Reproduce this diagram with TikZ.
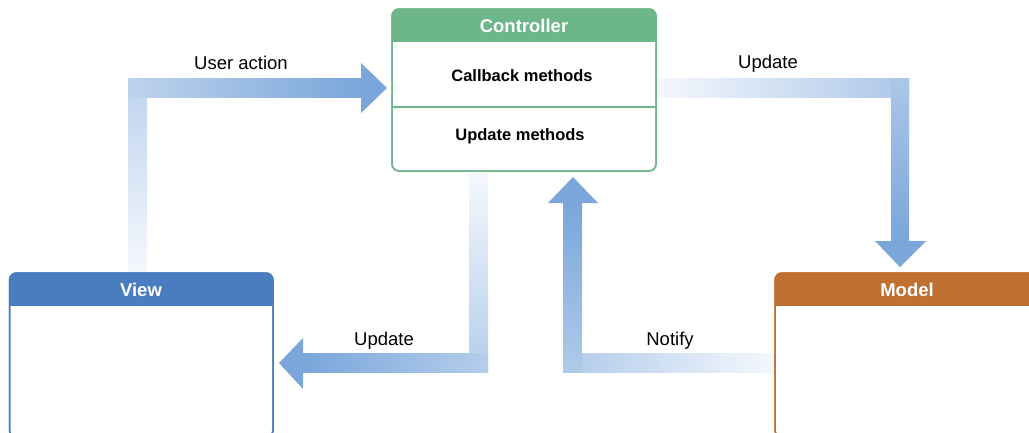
\documentclass[tikz,border=0pt]{standalone}
\usepackage{fontspec}
\setmainfont{Liberation Sans}
\definecolor{ctrlgreen}{RGB}{108,182,137}
\definecolor{viewblue}{RGB}{74,125,192}
\definecolor{modelorange}{RGB}{192,112,48}
\definecolor{adark}{RGB}{122,166,218}
\definecolor{alight}{RGB}{245,248,253}
\colorlet{mA}{adark!45!alight}
\colorlet{mB}{adark!60!alight}
\colorlet{mC}{adark!52!alight}
\colorlet{mD}{adark!56!alight}
\tikzset{
  boxframe/.style={draw=#1, line width=1.5pt, rounded corners=7pt, outer sep=0pt, inner sep=0pt, fill=white},
  boxtitle/.style={text=white, anchor=base, font=\bfseries\fontsize{18.5}{22}\selectfont},
  methodtext/.style={anchor=base, font=\bfseries\fontsize{16.5}{20}\selectfont},
  lbl/.style={anchor=base, font=\fontsize{18.5}{22}\selectfont},
  headtip/.style={fill=adark},
}
\newcommand{\boxheader}[3]{%
  \begin{scope}
    \clip[rounded corners=7pt] (#1.south west) rectangle (#1.north east);
    \fill[#2] (#1.north west) rectangle ([yshift=-#3]#1.north east);
  \end{scope}
  \draw[#2, line width=1.5pt, rounded corners=7pt] (#1.south west) rectangle (#1.north east);
}
\begin{document}
\begin{tikzpicture}[x=1pt,y=-1pt]
\clip (0,0) rectangle (1029,432);
\fill[white] (0,0) rectangle (1029,432);

% ---- arrows ----
% User action (View -> Controller)
\shade[bottom color=alight, top color=mA] (128,273) rectangle (147,78);
\shade[left color=mA, right color=adark] (128,78) rectangle (361,97);
\fill[headtip] (361,63) -- (387,88) -- (361,113) -- cycle;
% Update (Controller -> Model)
\shade[left color=alight, right color=mB] (656,78) rectangle (909,97);
\shade[top color=mB, bottom color=adark] (891,78) rectangle (909,241);
\fill[headtip] (875,241) -- (900,267) -- (926,241) -- cycle;
% Update (Controller -> View)
\shade[top color=alight, bottom color=mC] (469,171) rectangle (488,372);
\shade[left color=adark, right color=mC] (303,353) rectangle (488,372);
\fill[headtip] (303,338) -- (279,363) -- (303,389) -- cycle;
% Notify (Model -> Controller)
\shade[left color=mD, right color=alight] (563,353) rectangle (775,372);
\shade[top color=adark, bottom color=mD] (563,203) rectangle (582,372);
\fill[headtip] (548,203) -- (573,177) -- (598,203) -- cycle;

% ---- boxes ----
\node[boxframe=ctrlgreen, minimum width=264pt, minimum height=162pt] (ctrl) at (524,90) {};
\boxheader{ctrl}{ctrlgreen}{33pt}
\draw[ctrlgreen, line width=1.5pt] ([yshift=-98pt]ctrl.north west) -- ([yshift=-98pt]ctrl.north east);

\node[boxframe=viewblue, minimum width=263.5pt, minimum height=164pt] (view) at (141.25,355) {};
\boxheader{view}{viewblue}{33pt}

\node[boxframe=modelorange, minimum width=265pt, minimum height=164pt] (model) at (907.5,355) {};
\boxheader{model}{modelorange}{33pt}

% ---- texts ----
\node[boxtitle] (ctrltitle) at (524,32.3) {Controller};
\node[methodtext] (cbm) at (522,81) {Callback methods};
\node[methodtext] (upm) at (520,140) {Update methods};
\node[boxtitle] (viewtitle) at (141,296) {View};
\node[boxtitle] (modeltitle) at (907,296) {Model};

\node[lbl] (lua) at (241,69.3) {User action};
\node[lbl] (lup1) at (768,68.5) {Update};
\node[lbl] (lup2) at (384,345) {Update};
\node[lbl] (lnot) at (670,345) {Notify};
\end{tikzpicture}
\end{document}
